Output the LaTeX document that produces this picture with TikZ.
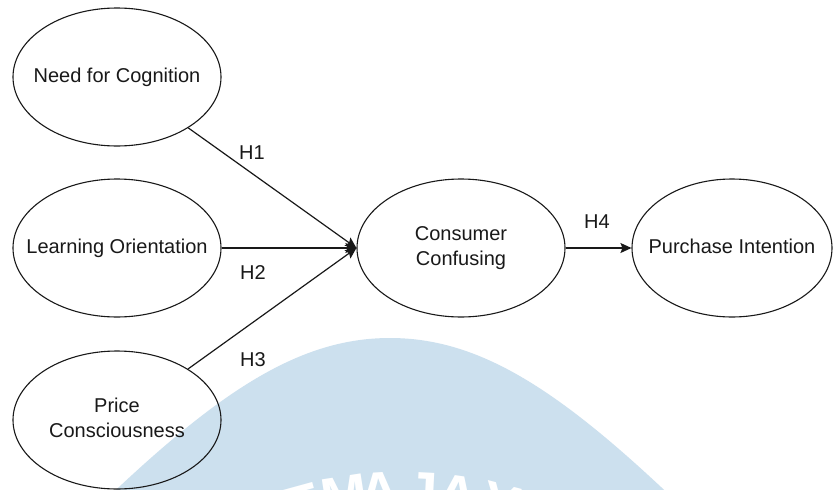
\documentclass[tikz,border=0pt]{standalone}
\usepackage{fontspec}
\setmainfont{Liberation Sans}
\usetikzlibrary{shapes.geometric,arrows.meta}
\definecolor{wmblue}{RGB}{204,224,238}
\definecolor{inkc}{RGB}{25,25,25}
\newcommand{\ctext}[1]{\makebox[0pt][c]{\begin{tabular}{@{}c@{}}#1\end{tabular}}}
\tikzset{
  latent/.style={ellipse, draw=inkc, line width=1.1pt, minimum width=208pt, minimum height=138pt,
    inner sep=0pt, font=\fontsize{20}{25}\selectfont, text=inkc},
  conn/.style={draw=inkc, line width=1.2pt, -{Stealth[length=11pt,width=10pt,inset=2pt]}},
  hlab/.style={font=\fontsize{20}{24}\selectfont, inner sep=0pt, text=inkc},
  wmletter/.style={font=\fontsize{56}{56}\selectfont\bfseries, text=white, inner sep=0pt, anchor=north}
}
\begin{document}
\begin{tikzpicture}[x=1pt,y=-1pt]
\useasboundingbox (0,0) rectangle (833,490);
\fill[white] (0,0) rectangle (833,490);
% watermark
\begin{scope}
  \clip (0,0) rectangle (833,490);
  \fill[wmblue] (100,505) .. controls (220,390) and (300,338) .. (390,338)
     .. controls (480,338) and (560,390) .. (680,505) -- cycle;
  \foreach \ch/\ang in {A/21.7, T/15.4, M/8.8, A/3.6, J/-2.9, A/-8.2, Y/-14.8, A/-20.8}{
    \node[wmletter, rotate=\ang] at ({403-400*sin(\ang)},{872-400*cos(\ang)}) {\ch};
  }
\end{scope}
% constructs
\node[latent] (nfc) at (117,77) {\ctext{Need for Cognition}};
\node[latent] (lo) at (117,248) {\ctext{Learning Orientation}};
\node[latent] (pc) at (117,420) {\ctext{Price\\Consciousness}};
\node[latent] (cc) at (461,248) {\ctext{Consumer\\Confusing}};
\node[latent, minimum width=200pt] (pi) at (732,248) {\ctext{Purchase Intention}};
% paths
\draw[conn] (nfc) -- (cc.west);
\draw[conn] (lo) -- (cc.west);
\draw[conn] (pc) -- (cc.west);
\draw[conn] (cc) -- (pi);
% labels
\node[hlab] (h1) at (252,153) {H1};
\node[hlab] (h2) at (253,273) {H2};
\node[hlab] (h3) at (253,360) {H3};
\node[hlab] (h4) at (597,222) {H4};
\end{tikzpicture}
\end{document}
